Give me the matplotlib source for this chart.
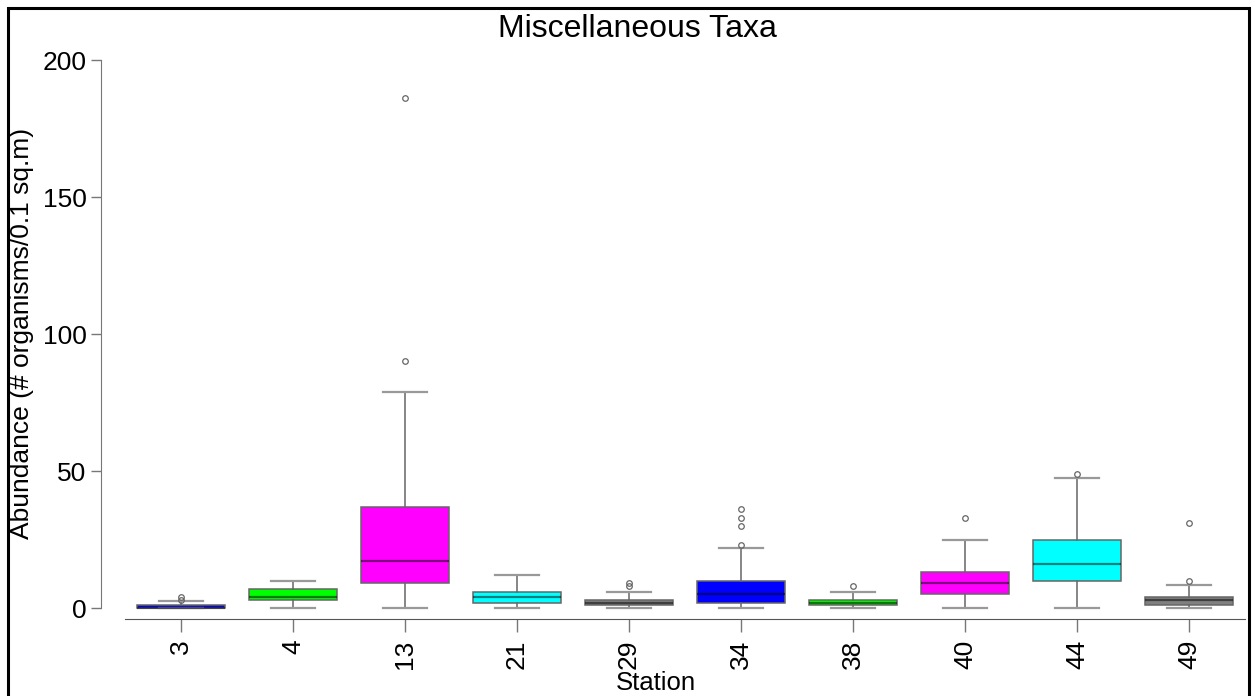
import matplotlib.pyplot as plt
from matplotlib.patches import Rectangle

plt.rcParams['font.family'] = ['Liberation Sans', 'DejaVu Sans']

stations = ['3', '4', '13', '21', '29', '34', '38', '40', '44', '49']
q1 = [0, 3, 9, 2, 1, 2, 1, 5, 10, 1]
med = [0, 4, 17, 4, 2, 5, 2, 9, 16, 3]
q3 = [1, 7, 37, 6, 3, 10, 3, 13, 25, 4]
whis_lo = [0, 0, 0, 0, 0, 0, 0, 0, 0, 0]
whis_hi = [2.5, 10, 79, 12, 6, 22, 6, 25, 47.5, 8.5]
outliers = [[3, 4], [], [90, 186], [], [8, 9], [23, 30, 33, 36], [8], [33], [49], [10, 31]]
colors = ['#0000FF', '#00FF00', '#FF00FF', '#00FFFF', '#808080',
          '#0000FF', '#00FF00', '#FF00FF', '#00FFFF', '#808080']

fig = plt.figure(figsize=(12.55, 6.96), dpi=100)
ax = fig.add_axes([125 / 1255, 1 - 619 / 696, 1120 / 1255, (619 - 32.6) / 696])

stats = []
for i, s in enumerate(stations):
    stats.append(dict(label=s, q1=q1[i], med=med[i], q3=q3[i],
                      whislo=whis_lo[i], whishi=whis_hi[i], fliers=outliers[i]))

bp = ax.bxp(stats, positions=range(1, len(stations) + 1), widths=0.78,
            patch_artist=True,
            boxprops=dict(edgecolor='#666666', linewidth=1.1),
            medianprops=dict(color='black', alpha=0.5, linewidth=1.6),
            whiskerprops=dict(color='#666666', linewidth=1.1),
            capprops=dict(color='#999999', linewidth=1.6),
            flierprops=dict(marker='o', markersize=4, markerfacecolor='none',
                            markeredgecolor='#666666', markeredgewidth=0.9))
for patch, c in zip(bp['boxes'], colors):
    patch.set_facecolor(c)

ax.set_xlim(0.5, 10.5)
ax.set_ylim(-4, 210)
ax.set_yticks([0, 50, 100, 150, 200])
ax.set_xticks(range(1, len(stations) + 1))
ax.set_xticklabels(stations, rotation=90)

for side in ['top', 'right']:
    ax.spines[side].set_visible(False)
ax.spines['left'].set_position(('outward', 17.3))
ax.spines['left'].set_bounds(0, 200)
ax.spines['left'].set_color('#777777')
ax.spines['bottom'].set_color('#555555')
ax.tick_params(axis='both', labelsize=19, colors='#777777', labelcolor='black',
               length=7, width=1)
ax.tick_params(axis='x', length=9, pad=6)

fig.text(637 / 1255, 1 - 29 / 696, 'Miscellaneous Taxa', ha='center', va='center', fontsize=23)
fig.text(656 / 1255, 1 - 683 / 696, 'Station', ha='center', va='center', fontsize=18.5)
fig.text(22 / 1255, 1 - 333 / 696, 'Abundance (# organisms/0.1 sq.m)', ha='center',
         va='center', rotation=90, fontsize=19)

fig.patches.append(Rectangle((8 / 1255, -0.1), 1241 / 1255, 1.1 - 8 / 696,
                             transform=fig.transFigure, fill=False,
                             edgecolor='black', linewidth=2.2))

fig.savefig('out.png', dpi=100)
